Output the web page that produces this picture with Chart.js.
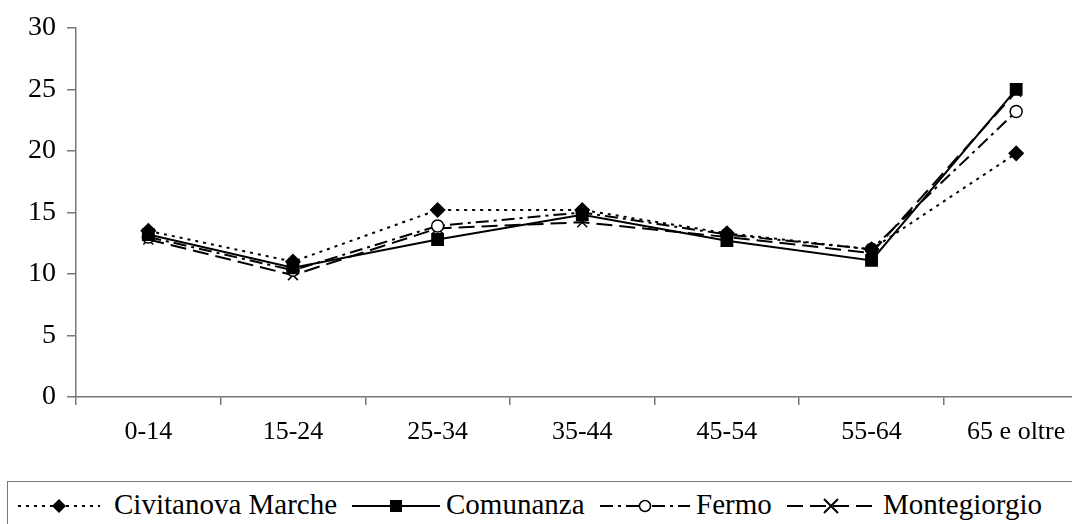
<!DOCTYPE html>
<html lang="it">
<head>
    <meta charset="UTF-8">
    <title>Popolazione per classi di età</title>
    <script src="https://cdn.jsdelivr.net/npm/chart.js"></script>
    <style>
        body {
            margin: 0;
            background: #fff;
            font-family: "Liberation Serif", "Times New Roman", serif;
        }
        #wrap {
            position: relative;
            width: 1072px;
            height: 524px;
            overflow: hidden;
        }
        #chart-box {
            position: absolute;
            left: 0;
            top: 0;
            width: 1098px;
            height: 470px;
        }
        #legend {
            position: absolute;
            left: 7px;
            top: 481px;
            width: 1090px;
            height: 60px;
            border: 1.5px solid #777;
            box-sizing: border-box;
            font-size: 29px;
            color: #000;
        }
        #legend .item {
            position: absolute;
            top: 6px;
            display: flex;
            align-items: center;
            white-space: nowrap;
            line-height: 33px;
        }
        #legend svg { display: block; }
    </style>
</head>
<body>
<div id="wrap">
    <div id="chart-box"><canvas id="chart"></canvas></div>
    <div id="legend"></div>
</div>

<script>
    // classi di età
    const categories = ['0-14', '15-24', '25-34', '35-44', '45-54', '55-64', '65 e oltre'];
    const yTicks = [0, 5, 10, 15, 20, 25, 30];

    const civitanova = [13.5, 11.0, 15.2, 15.2, 13.3, 12.0, 19.8];
    const comunanza = [13.2, 10.5, 12.8, 14.8, 12.7, 11.1, 25.0];
    const fermo = [13.0, 10.3, 13.9, 15.0, 13.2, 12.0, 23.2];
    const montegiorgio = [12.8, 9.9, 13.7, 14.2, 13.0, 11.7, 24.8];

    const seriesNames = ['Civitanova Marche', 'Comunanza', 'Fermo', 'Montegiorgio'];

    const styles = [
        { dash: [3, 5], point: 'rectRot', r: 7, fill: '#000' },
        { dash: [], point: 'rect', r: 8, fill: '#000' },
        { dash: [13, 5, 3, 5], point: 'circle', r: 6, fill: '#fff' },
        { dash: [16, 7], point: 'crossRot', r: 7, fill: '#000' }
    ];
    const allData = [civitanova, comunanza, fermo, montegiorgio];

    const datasets = allData.map((d, i) => ({
        label: seriesNames[i],
        data: d,
        borderColor: '#000',
        borderWidth: 2,
        borderDash: styles[i].dash,
        pointStyle: styles[i].point,
        pointRadius: styles[i].r,
        pointBackgroundColor: styles[i].fill,
        pointBorderColor: '#000',
        pointBorderWidth: 1.5,
        tension: 0,
        fill: false
    }));

    Chart.defaults.font.family = '"Liberation Serif", "Times New Roman", serif';
    Chart.defaults.color = '#000';

    new Chart(document.getElementById('chart'), {
        type: 'line',
        data: { labels: categories, datasets: datasets },
        options: {
            responsive: true,
            maintainAspectRatio: false,
            animation: false,
            layout: { padding: { top: 23, right: 0, left: 0, bottom: 0 } },
            plugins: { legend: { display: false }, tooltip: { enabled: false } },
            scales: {
                x: {
                    offset: true,
                    grid: { drawOnChartArea: false, offset: true, tickLength: 8, color: '#777', lineWidth: 1.5 },
                    border: { color: '#777', width: 1.5 },
                    ticks: { font: { size: 26 }, padding: 12, maxRotation: 0, autoSkip: false },
                    afterFit: s => { s.height = 73; }
                },
                y: {
                    min: 0,
                    max: 30,
                    afterBuildTicks: s => { s.ticks = yTicks.map(v => ({ value: v })); },
                    grid: { drawOnChartArea: false, tickLength: 9, color: '#777', lineWidth: 1.5 },
                    border: { color: '#777', width: 1.5 },
                    ticks: { font: { size: 28 }, padding: 11 },
                    afterFit: s => { s.width = 76; }
                }
            }
        }
    });

    // legenda con campioni di linea
    const legend = document.getElementById('legend');
    const sampleLeft = [10, 344, 592, 779];
    const textLeft = [106, 438, 688, 875];
    const sampleW = [82, 88, 90, 88];
    seriesNames.forEach((name, i) => {
        const st = styles[i];
        const w = sampleW[i], cx = w / 2, cy = 12;
        let marker = '';
        if (st.point === 'rectRot') marker = `<polygon points="${cx},${cy - 7} ${cx + 7},${cy} ${cx},${cy + 7} ${cx - 7},${cy}" fill="#000"/>`;
        if (st.point === 'rect') marker = `<rect x="${cx - 6}" y="${cy - 6}" width="12" height="12" fill="#000"/>`;
        if (st.point === 'circle') marker = `<circle cx="${cx}" cy="${cy}" r="5.5" fill="#fff" stroke="#000" stroke-width="1.5"/>`;
        if (st.point === 'crossRot') marker = `<path d="M${cx - 7} ${cy - 7}L${cx + 7} ${cy + 7}M${cx + 7} ${cy - 7}L${cx - 7} ${cy + 7}" stroke="#000" stroke-width="2"/>`;
        const dash = st.dash.length ? `stroke-dasharray="${st.dash.join(' ')}"` : '';

        const sample = document.createElement('div');
        sample.className = 'item';
        sample.style.left = sampleLeft[i] + 'px';
        sample.style.top = '12px';
        sample.innerHTML = `<svg width="${w}" height="24"><line x1="0" y1="${cy}" x2="${w}" y2="${cy}" stroke="#000" stroke-width="2" ${dash}/>${marker}</svg>`;
        legend.appendChild(sample);

        const label = document.createElement('div');
        label.className = 'item';
        label.style.left = textLeft[i] + 'px';
        label.textContent = name;
        legend.appendChild(label);
    });
</script>
</body>
</html>
